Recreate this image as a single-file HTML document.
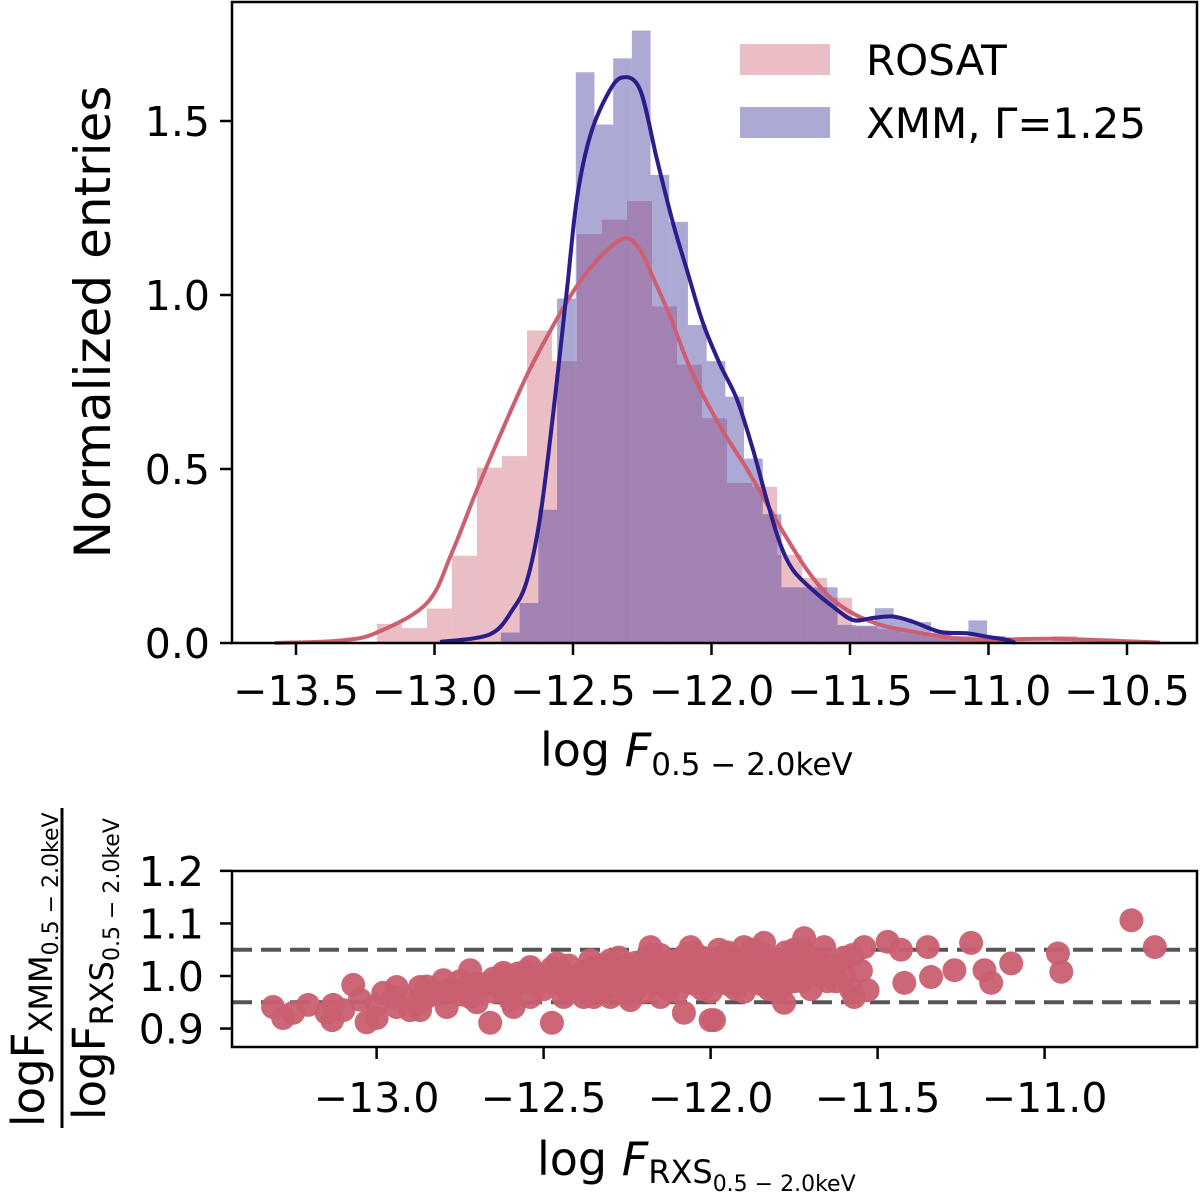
<!DOCTYPE html>
<html><head><meta charset="utf-8"><style>
html,body{margin:0;padding:0;background:#fff;}
svg{display:block;font-family:"DejaVu Sans","Liberation Sans",sans-serif;}
</style></head><body>
<svg id="fig" width="1200" height="1193" viewBox="0 0 1200 1193" xmlns="http://www.w3.org/2000/svg" style="position:absolute;left:0;top:0">
<g id="topPanel"></g>
<g id="botPanel"></g>
</svg>
<script>
// ---------- top panel data ----------
const pinkStart = -13.208;
const pinkWidth = 0.0903;
const pinkValues = [0.055,0.043,0.099,0.251,0.504,0.537,0.898,0.81,1.175,1.216,1.27,0.967,0.80,0.646,0.46,0.449,0.253,0.187,0.13,0.047,0.04,0.03,0.025,0.014,0.01,0.005,0.005,0.02,0.01];
const purpleStart = -12.760;
const purpleWidth = 0.0675;
const purpleValues = [0.03,0.115,0.383,0.99,1.64,1.49,1.68,1.76,1.345,1.21,0.914,0.81,0.708,0.53,0.37,0.16,0.16,0.16,0.052,0.05,0.10,0.07,0.06,0.03,0.02,0.065,0.02];
const kdeRosatX = [-13.576,-13.341,-13.208,-13.027,-12.937,-12.847,-12.756,-12.666,-12.576,-12.486,-12.395,-12.312,-12.258,-12.211,-12.150,-12.088,-12.016,-11.944,-11.872,-11.800,-11.727,-11.655,-11.583,-11.511,-11.439,-11.366,-11.247,-11.128,-11.005,-10.742,-10.381];
const kdeRosatY = [0.0,0.007,0.03,0.115,0.26,0.44,0.61,0.77,0.906,1.026,1.115,1.163,1.13,1.05,0.94,0.81,0.69,0.59,0.50,0.40,0.30,0.21,0.14,0.095,0.066,0.047,0.029,0.014,0.009,0.012,0.001];
const kdeXmmX = [-12.980,-12.800,-12.717,-12.666,-12.619,-12.572,-12.522,-12.486,-12.439,-12.377,-12.323,-12.258,-12.197,-12.139,-12.088,-12.031,-11.969,-11.908,-11.850,-11.800,-11.753,-11.706,-11.634,-11.561,-11.489,-11.417,-11.345,-11.273,-11.175,-11.078,-11.005,-10.933,-10.904];
const kdeXmmY = [0.003,0.025,0.097,0.18,0.36,0.656,1.014,1.276,1.455,1.574,1.625,1.59,1.39,1.207,1.07,0.92,0.80,0.70,0.555,0.41,0.287,0.21,0.152,0.104,0.066,0.072,0.076,0.061,0.032,0.028,0.018,0.009,0.0];
const topXTicks = [-13.5,-13.0,-12.5,-12.0,-11.5,-11.0,-10.5];
const topXTickLabels = ["−13.5","−13.0","−12.5","−12.0","−11.5","−11.0","−10.5"];
const topYTicks = [0.0,0.5,1.0,1.5];
const topYTickLabels = ["0.0","0.5","1.0","1.5"];
// ---------- bottom panel data ----------
const ratioPoints = [
[-13.31,0.941],[-13.28,0.92],[-13.205,0.945],[-13.133,0.916],[-13.13,0.945],[-13.07,0.983],[-13.03,0.912],[-13.0,0.92],[-12.98,0.968],[-12.94,0.979],[-12.94,0.941],[-12.87,0.979],[-12.87,0.935],[-12.80,0.992],[-12.79,0.941],[-12.72,1.011],[-12.72,0.96],[-12.66,0.911],[-12.62,1.006],[-12.59,0.941],[-12.54,1.017],[-12.54,0.96],[-12.475,0.911],[-12.46,1.024],[-12.44,0.96],[-12.38,0.96],[-12.36,1.03],[-12.30,0.96],[-12.24,0.954],[-12.18,1.055],[-12.06,1.055],[-12.08,0.93],[-12.0,0.916],
[-11.99,0.916],[-11.90,1.055],[-11.84,1.063],[-11.78,0.949],[-11.72,1.072],[-11.66,1.055],[-11.57,0.96],[-11.53,0.973],[-11.54,1.055],[-11.47,1.065],[-11.43,1.05],[-11.42,0.987],[-11.35,1.055],[-11.34,0.998],[-11.27,1.011],[-11.22,1.063],[-11.18,1.011],[-11.16,0.987],[-11.10,1.024],[-10.96,1.043],[-10.95,1.008],[-10.74,1.106],[-10.67,1.055],
[-12.9,0.955],[-12.85,0.96],[-12.8,0.97],[-12.75,0.965],[-12.7,0.985],[-12.65,0.97],[-12.65,0.995],[-12.6,0.98],[-12.55,0.99],[-12.5,0.975],[-12.5,1.0],[-12.45,0.985],[-12.45,1.01],[-12.4,0.975],[-12.4,1.0],[-12.35,0.99],[-12.35,1.015],[-12.3,0.98],[-12.3,1.005],[-12.3,1.03],[-12.25,0.995],[-12.25,1.02],[-12.2,0.97],[-12.2,1.0],[-12.2,1.03],[-12.15,0.985],[-12.15,1.01],[-12.15,1.04],[-12.1,0.97],[-12.1,1.0],[-12.1,1.03],[-12.05,0.985],[-12.05,1.015],[-12.05,1.045],[-12.0,0.97],[-12.0,1.0],[-12.0,1.03],[-11.95,0.985],[-11.95,1.015],[-11.95,1.045],[-11.9,0.97],[-11.9,1.0],[-11.9,1.03],[-11.85,0.985],[-11.85,1.015],[-11.85,1.045],[-11.8,0.97],[-11.8,1.0],[-11.8,1.03],[-11.75,0.99],[-11.75,1.02],[-11.75,1.05],[-11.7,0.975],[-11.7,1.005],[-11.7,1.035],[-11.65,0.99],[-11.65,1.02],[-11.6,1.0],[-11.6,1.035],[-11.55,1.01],[-11.58,0.975],[-12.7,0.95],[-12.6,0.955],[-12.9,0.935],[-13.05,0.955],[-12.35,0.96],[-12.25,0.965],[-12.15,0.96],
[-12.875,0.95],[-12.825,0.965],[-12.775,0.975],[-12.725,0.975],[-12.675,0.985],[-12.625,0.975],[-12.625,1.0],[-12.575,0.985],[-12.575,1.005],[-12.525,0.98],[-12.525,1.005],[-12.475,0.99],[-12.475,1.015],[-12.425,0.97],[-12.425,0.995],[-12.425,1.02],[-12.375,0.985],[-12.375,1.01],[-12.325,0.97],[-12.325,0.995],[-12.325,1.02],[-12.275,0.985],[-12.275,1.01],[-12.275,1.035],[-12.225,0.975],[-12.225,1.0],[-12.225,1.025],[-12.175,0.99],[-12.175,1.015],[-12.175,1.04],[-12.125,0.975],[-12.125,1.0],[-12.125,1.025],[-12.075,0.99],[-12.075,1.015],[-12.075,1.04],[-12.025,0.975],[-12.025,1.005],[-12.025,1.035],[-11.975,0.99],[-11.975,1.02],[-11.975,1.05],[-11.925,0.975],[-11.925,1.005],[-11.925,1.035],[-11.875,0.99],[-11.875,1.02],[-11.875,1.05],[-11.825,0.975],[-11.825,1.005],[-11.825,1.035],[-11.775,0.985],[-11.775,1.015],[-11.775,1.045],[-11.725,0.99],[-11.725,1.02],[-11.725,1.05],[-11.675,1.0],[-11.675,1.03],[-11.625,0.99],[-11.625,1.02],[-11.575,1.04],[-12.95,0.96],[-13.0,0.945],[-13.1,0.935],[-13.15,0.93],[-13.25,0.93],[-12.85,0.98],[-12.75,0.99],[-12.55,1.01]
];
const refLines = [1.05,0.95];
const botXTicks = [-13.0,-12.5,-12.0,-11.5,-11.0];
const botXTickLabels = ["−13.0","−12.5","−12.0","−11.5","−11.0"];
const botYTicks = [0.9,1.0,1.1,1.2];
const botYTickLabels = ["0.9","1.0","1.1","1.2"];

const NS="http://www.w3.org/2000/svg";
function mk(parent,tag,attrs,text){const e=document.createElementNS(NS,tag);for(const k in attrs)e.setAttribute(k,attrs[k]);if(text!==undefined)e.textContent=text;parent.appendChild(e);return e;}

const T={l:232,r:1197,t:2,b:643};
const tx=v=>296+(v+13.5)*277;
const ty=v=>643-v*348;
const B={l:232,r:1197,t:871,b:1047};
const bx=v=>376.6+(v+13)*334;
const by=v=>976-(v-1)*525.6;

function smoothPath(xs,ys,fx,fy){
  const p=xs.map((x,i)=>[fx(x),fy(ys[i])]);
  let d=`M${p[0][0]},${p[0][1]}`;
  for(let i=0;i<p.length-1;i++){
    const p0=p[i-1]||p[i],p1=p[i],p2=p[i+1],p3=p[i+2]||p2;
    const c1=[p1[0]+(p2[0]-p0[0])/6,p1[1]+(p2[1]-p0[1])/6];
    const c2=[p2[0]-(p3[0]-p1[0])/6,p2[1]-(p3[1]-p1[1])/6];
    d+=` C${c1[0]},${c1[1]} ${c2[0]},${c2[1]} ${p2[0]},${p2[1]}`;
  }
  return d;
}

const topG=document.getElementById('topPanel');
pinkValues.forEach((v,i)=>{
  const x0=tx(pinkStart+i*pinkWidth),x1=tx(pinkStart+(i+1)*pinkWidth);
  const r=mk(topG,'rect',{x:x0,y:ty(v),width:x1-x0,height:ty(0)-ty(v),fill:'rgb(205,92,110)','fill-opacity':0.4});
  
  
});
purpleValues.forEach((v,i)=>{
  const x0=tx(purpleStart+i*purpleWidth),x1=tx(purpleStart+(i+1)*purpleWidth);
  const r=mk(topG,'rect',{x:x0,y:ty(v),width:x1-x0,height:ty(0)-ty(v),fill:'rgb(50,40,150)','fill-opacity':0.4});
  
  
});
const lr=mk(topG,'path',{d:smoothPath(kdeRosatX,kdeRosatY,tx,ty),fill:'none',stroke:'#cd5f70','stroke-width':4});


const lx=mk(topG,'path',{d:smoothPath(kdeXmmX,kdeXmmY,tx,ty),fill:'none',stroke:'#2b1d8a','stroke-width':4});


const fr=mk(topG,'rect',{x:T.l,y:T.t,width:T.r-T.l,height:T.b-T.t,fill:'none',stroke:'#000','stroke-width':2.5});


topXTicks.forEach((v,i)=>{
  const t=mk(topG,'line',{x1:tx(v),x2:tx(v),y1:T.b,y2:T.b+12,stroke:'#000','stroke-width':2.5});
  
  
  const l=mk(topG,'text',{x:tx(v),y:705,'font-size':41,'text-anchor':'middle'},topXTickLabels[i]);
  
  
});
topYTicks.forEach((v,i)=>{
  const t=mk(topG,'line',{x1:T.l-12,x2:T.l,y1:ty(v),y2:ty(v),stroke:'#000','stroke-width':2.5});
  
  
  const l=mk(topG,'text',{x:210,y:ty(v)+15,'font-size':41,'text-anchor':'end'},topYTickLabels[i]);
  
  
});

const botG=document.getElementById('botPanel');
refLines.forEach(v=>{
  const l=mk(botG,'line',{x1:B.l,x2:B.r,y1:by(v),y2:by(v),stroke:'#555','stroke-width':4,'stroke-dasharray':'20,9'});
  
  
});
ratioPoints.forEach(p=>{
  const c=mk(botG,'circle',{cx:bx(p[0]),cy:by(p[1]),r:12,fill:'#c95f70','fill-opacity':0.95});
  
  
});
const bf=mk(botG,'rect',{x:B.l,y:B.t,width:B.r-B.l,height:B.b-B.t,fill:'none',stroke:'#000','stroke-width':2.5});


botXTicks.forEach((v,i)=>{
  const t=mk(botG,'line',{x1:bx(v),x2:bx(v),y1:B.b,y2:B.b+12,stroke:'#000','stroke-width':2.5});
  
  
  const l=mk(botG,'text',{x:bx(v),y:1112,'font-size':41,'text-anchor':'middle'},botXTickLabels[i]);
  
  
});
botYTicks.forEach((v,i)=>{
  const t=mk(botG,'line',{x1:B.l-12,x2:B.l,y1:by(v),y2:by(v),stroke:'#000','stroke-width':2.5});
  
  
  const l=mk(botG,'text',{x:204,y:by(v)+15,'font-size':41,'text-anchor':'end'},botYTickLabels[i]);
  
  
});
</script>
<svg style="position:absolute;left:0;top:0" width="1200" height="1193" xmlns="http://www.w3.org/2000/svg" font-family="DejaVu Sans, Liberation Sans, sans-serif">
  <g>
    <rect x="740" y="44" width="90" height="31" fill="rgb(205,92,110)" fill-opacity="0.4"/>
    <text x="866" y="75" font-size="42">ROSAT</text>
    <rect x="740" y="107" width="90" height="31" fill="rgb(50,40,150)" fill-opacity="0.4"/>
    <text x="866" y="138" font-size="42">XMM, Γ=1.25</text>
  </g>
  <text transform="translate(110,322) rotate(-90)" text-anchor="middle" font-size="50">Normalized entries</text>
  <text x="540" y="766" font-size="46">log <tspan font-style="italic">F</tspan><tspan font-size="31" dy="9">0.5 − 2.0keV</tspan></text>
  <text x="537" y="1175" font-size="46">log <tspan font-style="italic">F</tspan><tspan font-size="32" dy="8">RXS</tspan><tspan font-size="22" dy="8">0.5 − 2.0keV</tspan></text>
  <g>
    <text transform="translate(44,1127) rotate(-90)" font-size="45">logF<tspan font-size="32" dy="8">XMM</tspan><tspan font-size="22" dy="6">0.5 − 2.0keV</tspan></text>
    <line x1="62" y1="808" x2="62" y2="1128" stroke="#000" stroke-width="3"/>
    <text transform="translate(105,1120) rotate(-90)" font-size="45">logF<tspan font-size="32" dy="8">RXS</tspan><tspan font-size="22" dy="6">0.5 − 2.0keV</tspan></text>
  </g>
</svg>
</body></html>
